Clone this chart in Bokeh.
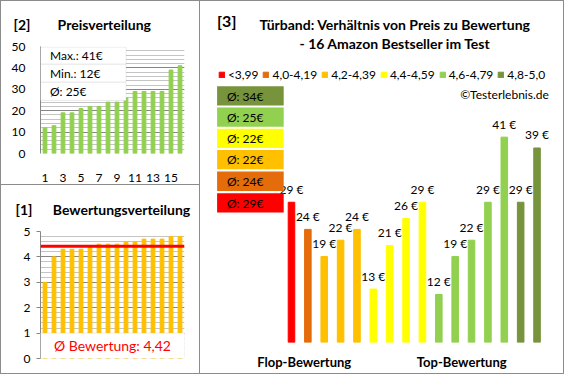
from bokeh.plotting import figure
from bokeh.layouts import row, column
from bokeh.models import (Label, BoxAnnotation, Span, SingleIntervalTicker, Title,
                          FixedTicker, Legend, LegendItem, Range1d)
from bokeh.core.properties import value
from bokeh.embed import file_html
from bokeh.resources import INLINE

# ---------------- data ----------------
ratings = [3.0, 4.0, 4.3, 4.3, 4.3, 4.4, 4.5, 4.5, 4.5, 4.6, 4.6, 4.7, 4.7, 4.7, 4.8, 4.8]
prices = [29, 24, 19, 22, 24, 13, 21, 26, 29, 12, 19, 22, 29, 41, 29, 39]
class_labels = ["<3,99", "4,0-4,19", "4,2-4,39", "4,4-4,59", "4,6-4,79", "4,8-5,0"]
class_lower = [0.0, 4.0, 4.2, 4.4, 4.6, 4.8]
class_colors = ["#FF0000", "#E46C0A", "#FFC000", "#FFFF00", "#92D050", "#77933C"]
price_ticks = [1, 3, 5, 7, 9, 11, 13, 15]
group_labels = ["Flop-Bewertung", "Top-Bewertung"]

FONT = "Lato"
LINE = "#8C8C8C"
GRID_MAJOR = "#868686"
GRID_MINOR = "#C4C4C4"
NBSP = "\u00a0"

n = len(prices)
positions = list(range(1, n + 1))
prices_sorted = sorted(prices)
mean_price = sum(prices) / n
mean_rating = sum(ratings) / n


def edges(*sides):
    sh = {"top": "0 1px", "bottom": "0 -1px", "left": "1px 0", "right": "-1px 0"}
    return {"box-shadow": ", ".join(f"inset {sh[s]} 0 0 {LINE}" for s in sides),
            "background-color": "white"}


def fig(**kw):
    p = figure(output_backend="svg", toolbar_location=None, outline_line_color=None, **kw)
    p.border_fill_alpha = 0
    p.background_fill_alpha = 0
    return p


def panel_title(text, offset, standoff, size="14px"):
    return Title(text=text, align="left", offset=offset, standoff=standoff, text_font=FONT,
                 text_font_style="bold", text_font_size=size, text_color="black")


# ---------------- panel [2] Preisverteilung ----------------
p2 = fig(width=200, height=185, x_range=Range1d(0.5, n + 0.5), y_range=Range1d(0, 50),
         min_border_left=40, min_border_right=16, min_border_top=45, min_border_bottom=32,
         styles=edges("top", "bottom", "left", "right"))
p2.vbar(x=positions, top=prices_sorted, width=0.42, color="#92D050")
p2.yaxis.ticker = SingleIntervalTicker(interval=10, num_minor_ticks=5)
p2.yaxis.axis_line_color = GRID_MAJOR
p2.yaxis.major_tick_line_color = None
p2.yaxis.minor_tick_line_color = None
p2.yaxis.major_label_standoff = 9
p2.xaxis.ticker = FixedTicker(ticks=price_ticks)
p2.xaxis.axis_line_color = None
p2.xaxis.major_tick_line_color = None
p2.xaxis.minor_tick_line_color = None
p2.xaxis.major_label_standoff = 14
for ax in (p2.xaxis, p2.yaxis):
    ax.major_label_text_font = FONT
    ax.major_label_text_font_size = "12px"
    ax.major_label_text_color = "black"
p2.xgrid.grid_line_color = None
p2.ygrid.grid_line_color = GRID_MAJOR
p2.ygrid.minor_grid_line_color = GRID_MINOR

rows = [(41.7, 49.7, f"Max.: {max(prices)}€"),
        (33.3, 41.7, f"Min.: {min(prices)}€"),
        (24.8, 33.3, f"Ø: {round(mean_price)}€")]
for lo, hi, txt in rows:
    p2.add_layout(BoxAnnotation(left=0.5, right=10.0, bottom=lo, top=hi,
                                fill_color="white", fill_alpha=1.0,
                                line_color="#BFBFBF", line_width=1))
    p2.add_layout(Label(x=1.55, y=(lo + hi) / 2, text=txt, text_font=FONT,
                        text_font_size="12px", text_baseline="middle", text_color="black"))
p2.add_layout(panel_title("[2]" + NBSP * 8 + "Preisverteilung", -27, 27), "above")

# ---------------- panel [1] Bewertungsverteilung ----------------
p1 = fig(width=200, height=189, x_range=Range1d(0.5, n + 0.5), y_range=Range1d(0, 5),
         x_axis_location=None,
         min_border_left=33, min_border_right=16, min_border_top=44, min_border_bottom=16,
         styles=edges("bottom", "left", "right"))
p1.vbar(x=positions, top=ratings, width=0.42, color="#FFC000")
p1.yaxis.ticker = SingleIntervalTicker(interval=1, num_minor_ticks=5)
p1.yaxis.axis_line_color = GRID_MAJOR
p1.yaxis.major_tick_line_color = GRID_MAJOR
p1.yaxis.major_tick_out = 4
p1.yaxis.major_tick_in = 0
p1.yaxis.minor_tick_line_color = None
p1.yaxis.major_label_standoff = 6
p1.yaxis.major_label_text_font = FONT
p1.yaxis.major_label_text_font_size = "12px"
p1.yaxis.major_label_text_color = "black"
p1.xgrid.grid_line_color = None
p1.ygrid.grid_line_color = GRID_MAJOR
p1.ygrid.minor_grid_line_color = GRID_MINOR
p1.add_layout(Span(location=mean_rating, dimension="width", line_color="#FF0000", line_width=3))
p1.add_layout(BoxAnnotation(left=0.5, right=n + 0.5, bottom=0, top=1, fill_color="white",
                            fill_alpha=1.0, line_color="#BFBFBF", line_width=1))
p1.add_layout(Label(x=(n + 1) / 2, y=0.5, text=f"Ø Bewertung: {mean_rating:.2f}".replace(".", ","),
                    text_font=FONT, text_font_size="14px", text_color="#FF0000",
                    text_align="center", text_baseline="middle"))
p1.add_layout(panel_title("[1]" + NBSP * 6 + "Bewertungsverteilung", -25, 27), "above")

# ---------------- panel [3] Preis zu Bewertung ----------------
W3, H3, FRAME_BOTTOM = 364, 374, 342
P3_X0, P3_XS = -4.558, 16.37
P3_Y0, P3_YS = 359.1, 5.426


def dx(px):
    return P3_X0 + px / P3_XS


def dy(py):
    return (P3_Y0 - py) / P3_YS


y_min = dy(FRAME_BOTTOM)
p3 = fig(width=W3, height=H3, x_range=Range1d(dx(0), dx(W3)), y_range=Range1d(y_min, dy(0)),
         y_axis_location=None, min_border_left=0, min_border_right=0, min_border_top=0,
         min_border_bottom=H3 - FRAME_BOTTOM, styles=edges("top", "bottom", "right"))
p3.grid.grid_line_color = None


def class_of(r):
    c = 0
    for i, lo in enumerate(class_lower):
        if r >= lo:
            c = i
    return c


classes = [class_of(r) for r in ratings]
legend_items = []
class_means = []
for ci, (lab, col) in enumerate(zip(class_labels, class_colors)):
    xs = [positions[i] for i in range(n) if classes[i] == ci]
    ys = [prices[i] for i in range(n) if classes[i] == ci]
    r = p3.vbar(x=xs, top=ys, bottom=y_min, width=0.4, color=col)
    legend_items.append(LegendItem(label=lab, renderers=[r]))
    class_means.append(round(sum(ys) / len(ys)))

p3.text(x=positions, y=prices, text=[f"{v} €" for v in prices], text_align="center",
        text_baseline="middle", y_offset=-13, text_font=value(FONT), text_font_size="12px",
        text_color="black")

legend = Legend(items=legend_items, orientation="horizontal",
                location=(17.9, FRAME_BOTTOM - 74.9 - 7),
                glyph_width=7, glyph_height=7, label_standoff=3, spacing=4, padding=0, margin=0,
                border_line_color=None, background_fill_alpha=0, label_text_font=FONT,
                label_text_font_size="12px", label_height=14, label_text_color="black")
p3.add_layout(legend)

box_tops = [85.8, 107.0, 128.2, 149.4, 171.1, 192.8]
for top, ci in zip(box_tops, reversed(range(len(class_labels)))):
    p3.add_layout(BoxAnnotation(left=dx(16.6), right=dx(83.2), top=dy(top), bottom=dy(top + 19.3),
                                fill_color=class_colors[ci], fill_alpha=1.0, line_color=None))
    p3.add_layout(Label(x=dx(26.4), y=dy(top + 9.7), text=f"Ø: {class_means[ci]}€",
                        text_font=FONT, text_font_size="12px", text_baseline="middle",
                        text_color="black"))


def bold_label(px, py, text, size, align="left"):
    return Label(x=dx(px), y=dy(py), text=text, text_font=FONT, text_font_style="bold",
                 text_font_size=size, text_baseline="middle", text_align=align,
                 text_color="black")


p3.add_layout(bold_label(16.6, 20.2, "[3]", "16px"))
p3.add_layout(bold_label(194.7, 24.1, "Türband: Verhältnis von Preis zu Bewertung", "14px", "center"))
p3.add_layout(bold_label(194.7, 43.1, "- 16 Amazon Bestseller im Test", "14px", "center"))
p3.add_layout(Label(x=dx(348.3), y=dy(93.8), text="©Testerlebnis.de", text_font=FONT,
                    text_font_size="12px", text_align="right", text_baseline="middle",
                    text_color="black"))

flop_pos, top_pos = 1.78, 11.4
p3.xaxis.ticker = FixedTicker(ticks=[flop_pos, top_pos])
p3.xaxis.major_label_overrides = {flop_pos: group_labels[0], top_pos: group_labels[1]}
p3.xaxis.axis_line_color = None
p3.xaxis.major_tick_line_color = None
p3.xaxis.minor_tick_line_color = None
p3.xaxis.major_label_standoff = 5
p3.xaxis.major_label_text_font = FONT
p3.xaxis.major_label_text_font_style = "bold"
p3.xaxis.major_label_text_font_size = "13px"
p3.xaxis.major_label_text_color = "black"

layout = row(column(p2, p1), p3)
open("out.html", "w").write(file_html(layout, INLINE))
